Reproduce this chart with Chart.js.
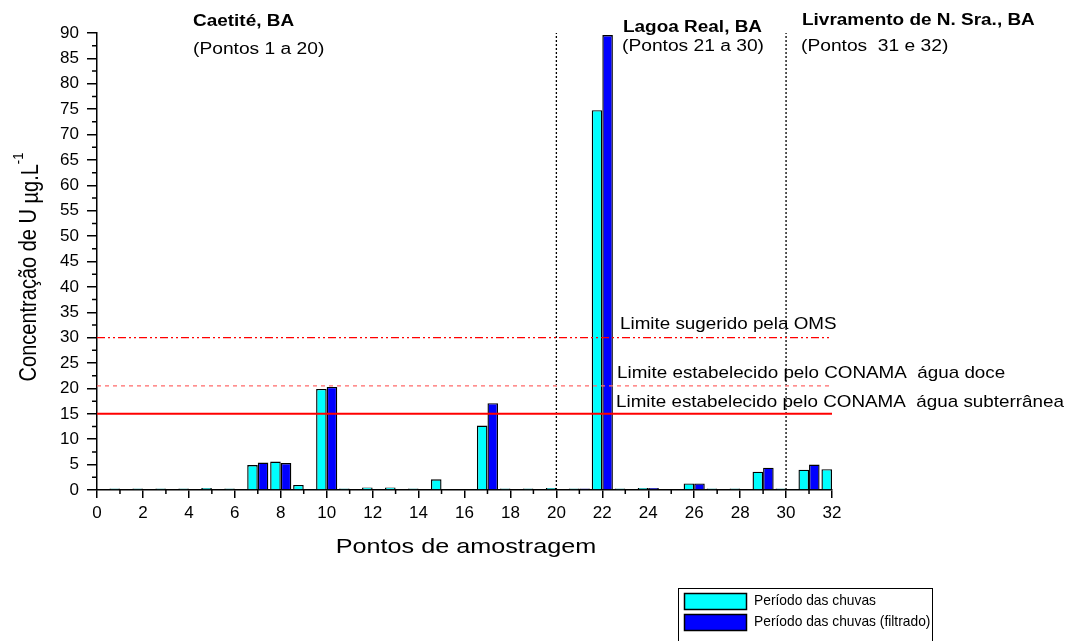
<!DOCTYPE html>
<html>
<head>
<meta charset="utf-8">
<script src="https://cdn.jsdelivr.net/npm/chart.js@4.4.1/dist/chart.umd.min.js"></script>
<style>
html,body{margin:0;padding:0;background:#fff;}
#wrap{width:1067px;height:641px;position:relative;}
canvas{display:block;}
</style>
</head>
<body>
<div id="wrap"><canvas id="c" width="1067" height="641"></canvas></div>
<script>
// ---- data ----
const pontos = [1,2,3,4,5,6,7,8,9,10,11,12,13,14,15,16,17,18,19,20,21,22,23,24,25,26,27,28,29,30,31,32];
const chuvas = [0.3,0.3,0.3,0.3,0.4,0.3,4.9,5.6,1.0,19.9,0.3,0.5,0.5,0.3,2.1,null,12.7,0.3,0.3,0.4,0.3,74.8,0.3,0.4,null,1.3,0.3,0.3,3.6,0.3,4.0,4.1];
const chuvasFiltrado = [null,null,null,null,null,null,5.4,5.3,null,20.3,null,null,null,null,null,null,17.1,null,null,null,0.3,89.6,null,0.4,null,1.3,null,null,4.4,null,5.0,null];
const xTickValues = [0,2,4,6,8,10,12,14,16,18,20,22,24,26,28,30,32];
const xMinorTicks = [1,3,5,7,9,11,13,15,17,19,21,23,25,27,29,31];
const yTickValues = [0,5,10,15,20,25,30,35,40,45,50,55,60,65,70,75,80,85,90];
const yMinorTicks = [2.5,7.5,12.5,17.5,22.5,27.5,32.5,37.5,42.5,47.5,52.5,57.5,62.5,67.5,72.5,77.5,82.5,87.5];
const limiteOMS = 30;
const limiteConamaDoce = 20.5;
const limiteConamaSub = 15;
const divisoesRegiao = [20, 30];
const serieLabels = ['Período das chuvas', 'Período das chuvas (filtrado)'];
const regioes = [
  {nome:'Caetité, BA', pontos:'(Pontos 1 a 20)'},
  {nome:'Lagoa Real, BA', pontos:'(Pontos 21 a 30)'},
  {nome:'Livramento de N. Sra., BA', pontos:'(Pontos  31 e 32)'}
];
const limiteLabels = ['Limite sugerido pela OMS','Limite estabelecido pelo CONAMA  água doce','Limite estabelecido pelo CONAMA  água subterrânea'];
const xTitle = 'Pontos de amostragem';

const FONT = '"Liberation Sans", Arial, Helvetica, sans-serif';
const SX = 1.2; // horizontal stretch of annotation text

function txt(ctx, s, x, y, font, align, sx) {
  ctx.save();
  ctx.font = font;
  ctx.fillStyle = '#000';
  ctx.textBaseline = 'middle';
  ctx.textAlign = align || 'left';
  ctx.translate(x, y);
  ctx.scale(sx || 1, 1);
  ctx.fillText(s, 0, 0);
  ctx.restore();
}

const decor = {
  id: 'decor',
  afterDraw(chart) {
    const ctx = chart.ctx;
    const xs = chart.scales.x, ys = chart.scales.y;
    const a = chart.chartArea;
    // minor ticks
    ctx.save();
    ctx.strokeStyle = '#000';
    ctx.lineWidth = 1.5;
    ctx.beginPath();
    xMinorTicks.forEach(v => { const p = xs.getPixelForValue(v); ctx.moveTo(p, a.bottom); ctx.lineTo(p, a.bottom + 4); });
    yMinorTicks.forEach(v => { const p = ys.getPixelForValue(v); ctx.moveTo(a.left, p); ctx.lineTo(a.left - 5, p); });
    ctx.stroke();
    ctx.restore();

    // region headers
    const B = 'bold 15.8px ' + FONT, N = '16px ' + FONT;
    txt(ctx, regioes[0].nome, 193, 22, B, 'left', SX);
    txt(ctx, regioes[0].pontos, 193, 50, N, 'left', SX);
    txt(ctx, regioes[1].nome, 623, 28, B, 'left', SX);
    txt(ctx, regioes[1].pontos, 622, 47, N, 'left', SX);
    txt(ctx, regioes[2].nome, 802, 21, B, 'left', SX);
    txt(ctx, regioes[2].pontos, 801, 47, N, 'left', SX);

    // limit labels
    const L = '15.7px ' + FONT;
    txt(ctx, limiteLabels[0], 620, 325, L, 'left', SX);
    txt(ctx, limiteLabels[1], 617, 374, L, 'left', SX);
    txt(ctx, limiteLabels[2], 616, 403, L, 'left', SX);

    // x title
    txt(ctx, xTitle, 466, 547, '21px ' + FONT, 'center', SX);

    // y title (rotated, with superscript)
    ctx.save();
    ctx.translate(28, 267);
    ctx.rotate(-Math.PI / 2);
    ctx.scale(1, 1.15);
    ctx.fillStyle = '#000';
    ctx.textBaseline = 'alphabetic';
    const main = 'Concentração de U ';
    const mu = 'µg.L';
    ctx.font = '20px ' + FONT;
    const w1 = ctx.measureText(main).width;
    const w2 = ctx.measureText(mu).width;
    ctx.font = '13px ' + FONT;
    const w3 = ctx.measureText('-1').width;
    const total = w1 + w2 + w3;
    let x0 = -total / 2;
    ctx.font = '20px ' + FONT;
    ctx.fillText(main, x0, 7);
    ctx.fillText(mu, x0 + w1, 9);
    ctx.font = '13px ' + FONT;
    ctx.fillText('-1', x0 + w1 + w2, -4);
    ctx.restore();

    // legend
    ctx.save();
    ctx.strokeStyle = '#000';
    ctx.lineWidth = 1;
    ctx.strokeRect(678.5, 588.5, 254, 60);
    const ds = chart.data.datasets;
    [0, 1].forEach((i, k) => {
      const y = 593 + k * 21;
      ctx.fillStyle = ds[i].backgroundColor;
      ctx.fillRect(684, y, 62, 16);
      ctx.strokeStyle = '#000';
      ctx.lineWidth = 1.5;
      ctx.strokeRect(684.5, y + 0.5, 62, 16);
      txt(ctx, ds[i].label, 754, y + 8, '15px ' + FONT, 'left', 0.92);
    });
    ctx.restore();
  }
};

const hLine = (v, color, dash, w) => ({
  type: 'line', data: [{x:0, y:v}, {x:32, y:v}], borderColor: color, borderDash: dash,
  borderWidth: w, pointRadius: 0, fill: false, order: 0, label: '_'
});
const vLine = (v) => ({
  type: 'line', data: [{x:v, y:0}, {x:v, y:90}], borderColor: '#000', borderDash: [2, 2],
  borderWidth: 1.3, pointRadius: 0, fill: false, order: 0, label: '_'
});

new Chart(document.getElementById('c'), {
  type: 'bar',
  data: {
    datasets: [
      { label: serieLabels[0], data: pontos.map((p, i) => ({x: p, y: chuvas[i]})),
        backgroundColor: '#00FFFF', borderColor: '#000', borderWidth: 1.4,
        categoryPercentage: 0.92, barPercentage: 1.0, order: 1 },
      { label: serieLabels[1], data: pontos.map((p, i) => ({x: p, y: chuvasFiltrado[i]})),
        backgroundColor: '#0000FF', borderColor: '#000', borderWidth: 1.4,
        categoryPercentage: 0.92, barPercentage: 1.0, order: 1 },
      hLine(limiteOMS, '#FF0000', [8, 3, 2, 3, 2, 3], 1.3),
      hLine(limiteConamaDoce, '#FF6A6A', [4, 4], 1.3),
      hLine(limiteConamaSub, '#FF0000', [], 2),
      vLine(divisoesRegiao[0]),
      vLine(divisoesRegiao[1])
    ]
  },
  options: {
    responsive: false,
    animation: false,
    devicePixelRatio: 1,
    layout: { padding: { left: 0, top: 33, right: 235, bottom: 0 } },
    plugins: { legend: { display: false }, tooltip: { enabled: false }, title: { display: false } },
    scales: {
      x: {
        type: 'linear', min: 0, max: 32, offset: false,
        afterFit: s => { s.height = 151; },
        afterBuildTicks: s => { s.ticks = xTickValues.map(v => ({value: v})); },
        ticks: { font: { size: 17, family: FONT }, color: '#000', padding: 5, maxRotation: 0, autoSkip: false },
        grid: { drawOnChartArea: false, tickLength: 8, color: '#000', lineWidth: 1.5, offset: false },
        border: { color: '#000', width: 1.5 }
      },
      y: {
        min: 0, max: 90,
        afterFit: s => { s.width = 97; },
        afterBuildTicks: s => { s.ticks = yTickValues.map(v => ({value: v})); },
        ticks: { font: { size: 17, family: FONT }, color: '#000', padding: 8, autoSkip: false },
        grid: { drawOnChartArea: false, tickLength: 10, color: '#000', lineWidth: 1.5 },
        border: { color: '#000', width: 1.5 }
      }
    }
  },
  plugins: [decor]
});
</script>
</body>
</html>
